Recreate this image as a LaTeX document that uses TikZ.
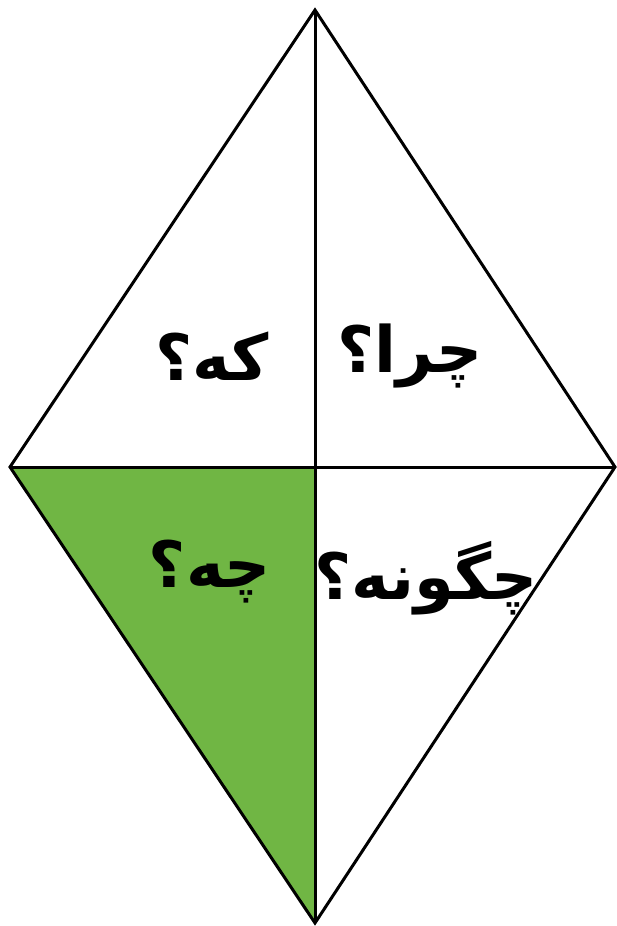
\documentclass[tikz,border=0pt]{standalone}
\usepackage{fontspec}
\usepackage{tikz}
\usetikzlibrary{calc, positioning}
\TeXXeTstate=1
\newfontfamily\arabicfont[Script=Arabic]{DejaVu Sans}
\definecolor{quadFill}{RGB}{112, 182, 68}

\begin{document}
\begin{tikzpicture}[x=1pt, y=-1pt, line width=3pt,
    qword/.style={font=\arabicfont\bfseries\fontsize{64}{70}\selectfont, inner sep=0pt}]
  \useasboundingbox (0, 0) rectangle (617, 926);

  % Corners
  \coordinate (top)    at (315, 10);
  \coordinate (bottom) at (315, 923);
  \coordinate (left)   at (10, 467);
  \coordinate (right)  at (615, 467);
  \coordinate (mid)    at (315, 467);

  % Shaded quarter
  \fill[quadFill] (left) -- (mid) -- (bottom) -- cycle;

  % Outline and diagonals
  \draw[line join=miter] (top) -- (right) -- (bottom) -- (left) -- cycle;
  \draw (top) -- (bottom);
  \draw (left) -- (right);

  % Questions
  \node[qword] (who)  at (212, 356) {\beginR که؟\endR};
  \node[qword] (why)  at (410, 356) {\beginR چرا؟\endR};
  \node[qword] (what) at (210, 572) {\beginR چه؟\endR};
  \node[qword] (how)  at (426, 578) {\beginR چگونه؟\endR};
\end{tikzpicture}
\end{document}
